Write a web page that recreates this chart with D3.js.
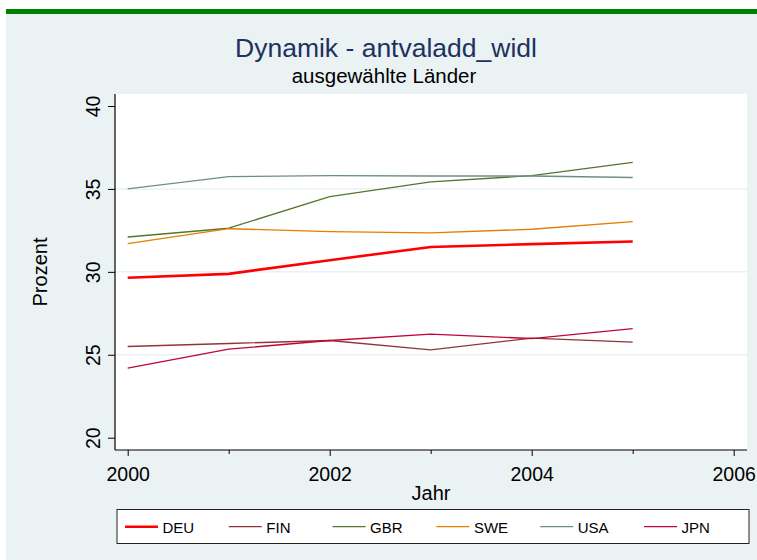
<!DOCTYPE html>
<html><head><meta charset="utf-8">
<script src="https://cdn.jsdelivr.net/npm/d3@7"></script>
<style>html,body{margin:0;padding:0;background:#fff;}svg{display:block;font-family:"Liberation Sans",Arial,Helvetica,sans-serif;}</style>
</head><body>
<script>
const years = [2000, 2001, 2002, 2003, 2004, 2005];
const countries = ["DEU", "FIN", "GBR", "SWE", "USA", "JPN"];
const DEU = [29.64, 29.88, 30.70, 31.50, 31.67, 31.83];
const FIN = [25.50, 25.68, 25.86, 25.30, 26.00, 25.76];
const GBR = [32.10, 32.63, 34.54, 35.42, 35.80, 36.60];
const SWE = [31.70, 32.60, 32.43, 32.35, 32.57, 33.03];
const USA = [35.00, 35.74, 35.80, 35.78, 35.78, 35.69];
const JPN = [24.20, 25.34, 25.86, 26.24, 25.98, 26.58];
const colors = ["#FF0000", "#90353B", "#55752F", "#E37E00", "#6E8E84", "#C10534"];
const widths = [2.6, 1.3, 1.3, 1.3, 1.3, 1.3];
const yTicks = [20, 25, 30, 35, 40];
const xMajor = [2000, 2002, 2004, 2006];
const xMinor = [2001, 2003, 2005];
const title = "Dynamik - antvaladd_widl";
const subtitle = "ausgewählte Länder";
const xTitle = "Jahr";
const yTitle = "Prozent";

const seriesData = [DEU, FIN, GBR, SWE, USA, JPN];
const W = 757, H = 560;
const svg = d3.select("body").append("svg").attr("width", W).attr("height", H);

// page background
svg.append("rect").attr("x", 0).attr("y", 0).attr("width", W).attr("height", H).attr("fill", "#fff");
svg.append("rect").attr("x", 6).attr("y", 9).attr("width", W - 6).attr("height", 5).attr("fill", "#008000");
svg.append("rect").attr("x", 6).attr("y", 14).attr("width", W - 6).attr("height", H - 14).attr("fill", "#EAF2F3");

// plot region
const plot = {left: 115, right: 747, top: 94, bottom: 450};
svg.append("rect").attr("x", plot.left).attr("y", plot.top)
  .attr("width", plot.right - plot.left).attr("height", plot.bottom - plot.top).attr("fill", "#fff");

const x = d3.scaleLinear().domain([2000, 2006]).range([127.7, 733.7]);
const y = d3.scaleLinear().domain([20, 40]).range([437.7, 106]);

// gridlines
svg.append("g").selectAll("line").data(yTicks.filter(v => v > 20 && v < 40)).join("line")
  .attr("x1", plot.left).attr("x2", plot.right)
  .attr("y1", d => y(d)).attr("y2", d => y(d))
  .attr("stroke", "#EAF2F3").attr("stroke-width", 1.5);

// y axis
const yAxis = d3.axisLeft(y).tickValues(yTicks).tickSize(7).tickPadding(0).tickFormat(d3.format("d"));
const gy = svg.append("g").attr("transform", `translate(${plot.left},0)`).call(yAxis);
gy.select(".domain").remove();
gy.selectAll(".tick line").attr("stroke", "#000");
gy.selectAll(".tick text").remove();
gy.selectAll(".tick").append("text")
  .attr("transform", "translate(-15,0) rotate(-90)")
  .attr("text-anchor", "middle").attr("fill", "#000").attr("font-size", 19.5)
  .attr("font-family", "Liberation Sans, Arial, sans-serif")
  .text(d => d);
svg.append("line").attr("x1", plot.left).attr("x2", plot.left).attr("y1", plot.top).attr("y2", plot.bottom)
  .attr("stroke", "#000").attr("stroke-width", 1.2);

// x axis
const xAxis = d3.axisBottom(x).tickValues(xMajor).tickSize(6).tickPadding(11).tickFormat(d3.format("d"));
const gx = svg.append("g").attr("transform", `translate(0,${plot.bottom})`).call(xAxis);
gx.select(".domain").remove();
gx.selectAll(".tick line").attr("stroke", "#000");
gx.selectAll(".tick text").attr("font-size", 19.5).attr("fill", "#000")
  .attr("font-family", "Liberation Sans, Arial, sans-serif").attr("dy", "0.71em");
const xAxisMinor = d3.axisBottom(x).tickValues(xMinor).tickSize(4).tickFormat("");
const gxm = svg.append("g").attr("transform", `translate(0,${plot.bottom})`).call(xAxisMinor);
gxm.select(".domain").remove();
gxm.selectAll(".tick line").attr("stroke", "#000");
svg.append("line").attr("x1", plot.left).attr("x2", plot.right).attr("y1", plot.bottom).attr("y2", plot.bottom)
  .attr("stroke", "#000").attr("stroke-width", 1.2);

// lines
const line = d3.line().x((d, i) => x(years[i])).y(d => y(d));
seriesData.forEach((s, k) => {
  svg.append("path").datum(s).attr("d", line).attr("fill", "none")
    .attr("stroke", colors[k]).attr("stroke-width", widths[k]).attr("stroke-linejoin", "round");
});

// titles
svg.append("text").attr("x", 386).attr("y", 56.5).attr("text-anchor", "middle")
  .attr("font-size", 26.5).attr("fill", "#1E3160").text(title);
svg.append("text").attr("x", 384).attr("y", 83.3).attr("text-anchor", "middle")
  .attr("font-size", 20.5).attr("fill", "#000").text(subtitle);
svg.append("text").attr("x", 431).attr("y", 499.5).attr("text-anchor", "middle")
  .attr("font-size", 20).attr("fill", "#000").text(xTitle);
svg.append("text").attr("transform", "translate(47,272) rotate(-90)").attr("text-anchor", "middle")
  .attr("font-size", 20).attr("fill", "#000").text(yTitle);

// legend
svg.append("rect").attr("x", 117).attr("y", 509.5).attr("width", 632).attr("height", 34)
  .attr("fill", "#fff").attr("stroke", "#222").attr("stroke-width", 1);
const lx = d3.scaleLinear().domain([0, 1]).range([125, 228.8]);
const lg = svg.append("g").selectAll("g").data(countries).join("g")
  .attr("transform", (d, i) => `translate(${lx(i)},526.7)`);
lg.append("line").attr("x1", 0).attr("x2", 33).attr("y1", 0).attr("y2", 0)
  .attr("stroke", (d, i) => colors[i]).attr("stroke-width", (d, i) => widths[i]);
lg.append("text").attr("x", 37.5).attr("y", 6.6).attr("font-size", 15).attr("fill", "#000").text(d => d);
</script>
</body></html>
